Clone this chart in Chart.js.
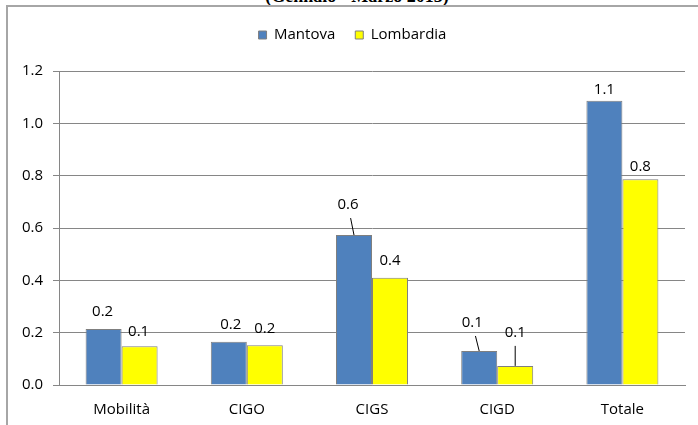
<!DOCTYPE html>
<html lang="it">
<head>
<meta charset="UTF-8">
<title>Mantova - Lombardia</title>
<script src="https://cdn.jsdelivr.net/npm/chart.js"></script>
<style>
  body { margin: 0; width: 698px; height: 425px; overflow: hidden; background: #fff; position: relative; }
  #title { position: absolute; top: -12px; left: 357px; transform: translateX(-50%);
           font: bold 18px "Liberation Serif", serif; line-height: 16px; white-space: nowrap; }
  #frame { position: absolute; left: 6px; top: 5px; width: 690px; height: 418px;
           border-left: 2px solid #a6a6a6; border-top: 2px solid #a6a6a6; }
</style>
</head>
<body>
<div id="title">(Gennaio - Marzo 2013)</div>
<div id="frame"><canvas id="chart"></canvas></div>
<script>
// data
const categories = ['Mobilità', 'CIGO', 'CIGS', 'CIGD', 'Totale'];
const mantova = [0.214, 0.165, 0.573, 0.13, 1.086];
const lombardia = [0.148, 0.152, 0.41, 0.073, 0.786];

const font = '"Open Sans", sans-serif';
const gridGray = '#868686';

// value labels above bars, a few moved up with a leader line
const valueLabels = {
    id: 'valueLabels',
    afterDatasetsDraw(chart, args, opts) {
        const ctx = chart.ctx;
        ctx.save();
        ctx.font = '15px ' + font;
        ctx.fillStyle = '#000';
        ctx.strokeStyle = '#000';
        ctx.lineWidth = 1;
        ctx.textAlign = 'center';
        ctx.textBaseline = 'middle';
        chart.data.datasets.forEach((ds, di) => {
            chart.getDatasetMeta(di).data.forEach((bar, i) => {
                const o = opts.offsets[di + ':' + i] || [0, 15];
                const x = bar.x + o[0], y = bar.y - o[1];
                if (o[2]) {
                    const t = 13 / o[1];
                    ctx.beginPath();
                    ctx.moveTo(x + (bar.x - x) * t, y + 13);
                    ctx.lineTo(bar.x, bar.y);
                    ctx.stroke();
                }
                ctx.fillText(ds.data[i].toFixed(1), x, y);
            });
        });
        ctx.restore();
    }
};

// extra room under the legend, and nudge it right a little
const legendSpace = {
    id: 'legendSpace',
    beforeLayout(chart) {
        const lg = chart.legend;
        if (lg && !lg._spaced) {
            const fit = lg.fit;
            lg.fit = function () { fit.call(this); this.height += 18.5; };
            lg._spaced = true;
        }
    },
    afterLayout(chart) {
        chart.legend.left += 6;
        chart.legend.right += 6;
    }
};

new Chart(document.getElementById('chart'), {
    type: 'bar',
    data: {
        labels: categories,
        datasets: [{
            label: 'Mantova',
            data: mantova,
            backgroundColor: '#4F81BD',
            borderColor: '#7F7F7F',
            borderWidth: 1
        }, {
            label: 'Lombardia',
            data: lombardia,
            backgroundColor: '#FFFF00',
            borderColor: '#7F7F7F',
            borderWidth: 1
        }]
    },
    options: {
        responsive: true,
        maintainAspectRatio: false,
        animation: false,
        datasets: { bar: { categoryPercentage: 0.575, barPercentage: 1.0 } },
        layout: { padding: { top: 0.5, right: 13, bottom: 0, left: 0 } },
        plugins: {
            legend: {
                position: 'top',
                labels: { boxWidth: 8, boxHeight: 8, padding: 20, color: '#000', font: { family: font, size: 15 } }
            },
            tooltip: { enabled: false },
            valueLabels: {
                offsets: {
                    '0:0': [-1, 17], '0:1': [2, 17.5], '0:2': [-6, 30, 1], '0:3': [-7, 28, 1], '0:4': [0, 11.5],
                    '1:0': [-1, 15], '1:1': [0, 16], '1:2': [0, 17], '1:3': [0, 33, 1], '1:4': [0, 13]
                }
            }
        },
        scales: {
            x: {
                grid: { display: false, drawTicks: false },
                border: { display: true, color: gridGray },
                ticks: { color: '#000', padding: 16, font: { family: font, size: 15 } },
                afterFit: s => { s.height = 40; }
            },
            y: {
                min: 0,
                max: 1.2,
                grid: { color: gridGray, tickLength: 6 },
                border: { display: true, color: gridGray },
                ticks: {
                    stepSize: 0.2, padding: 10, color: '#000', font: { family: font, size: 15 },
                    callback: v => v.toFixed(1)
                },
                afterFit: s => { s.width = 51; }
            }
        }
    },
    plugins: [valueLabels, legendSpace]
});
</script>
</body>
</html>
